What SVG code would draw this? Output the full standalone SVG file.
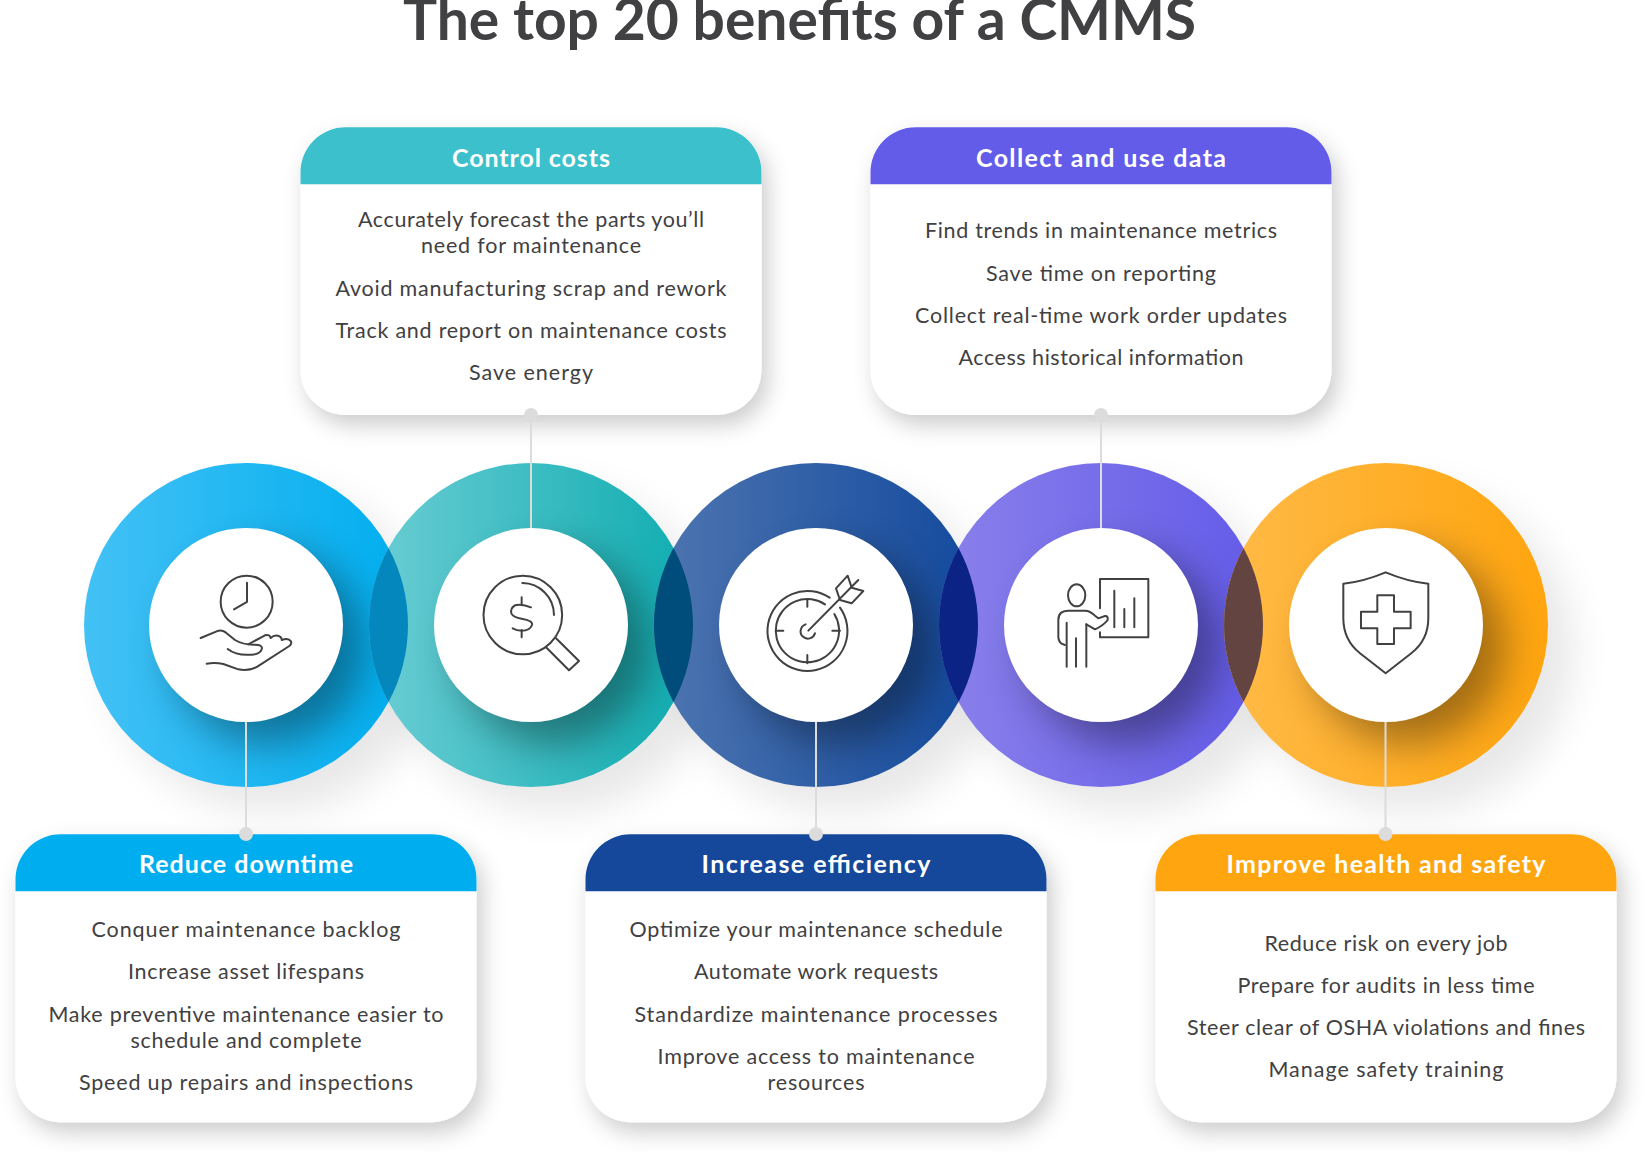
<svg xmlns="http://www.w3.org/2000/svg" width="1646" height="1152" viewBox="0 0 1646 1152">
<style>
text{font-family:"Lato","Open Sans",sans-serif;text-anchor:middle}
.title{font-size:57px;font-weight:700;fill:#414042}
.head{font-size:25px;font-weight:700;fill:#fff}
.item{font-size:21.5px;font-weight:400;fill:#414042}
.card{fill:#fff;filter:url(#cardShadow)}
.conn{stroke:#dcdcdc;stroke-width:2;fill:none}
.dot{fill:#dcdcdc}
.inner{fill:#fff}
.ic{fill:none;stroke:#414042;stroke-width:6;stroke-linecap:round;stroke-linejoin:round}
.ringShadow{fill:#000;opacity:.09;filter:url(#blurA)}
.innerShadow{fill:#000;opacity:.36;filter:url(#blurB)}
</style>
<defs>
<filter id="cardShadow" x="-20%" y="-20%" width="140%" height="150%"><feDropShadow dx="6" dy="10" stdDeviation="11" flood-color="#000" flood-opacity=".2"/></filter>
<filter id="blurA" x="-30%" y="-30%" width="160%" height="160%"><feGaussianBlur stdDeviation="20"/></filter>
<filter id="blurB" x="-40%" y="-40%" width="180%" height="180%"><feGaussianBlur stdDeviation="20"/></filter>
<linearGradient id="gBlue"><stop offset="0" stop-color="#43c1f5"/><stop offset="1" stop-color="#00aeef"/></linearGradient>
<linearGradient id="gTeal"><stop offset="0" stop-color="#6bcdd4"/><stop offset="1" stop-color="#0fadb1"/></linearGradient>
<linearGradient id="gNavy"><stop offset="0" stop-color="#4e75b0"/><stop offset="1" stop-color="#134a9e"/></linearGradient>
<linearGradient id="gPurple"><stop offset="0" stop-color="#8a80eb"/><stop offset="1" stop-color="#635be8"/></linearGradient>
<linearGradient id="gOrange"><stop offset="0" stop-color="#ffba47"/><stop offset="1" stop-color="#ffa50f"/></linearGradient>
<clipPath id="c1"><circle cx="246" cy="625" r="162"/></clipPath>
<clipPath id="c2"><circle cx="531" cy="625" r="162"/></clipPath>
<clipPath id="c3"><circle cx="816" cy="625" r="162"/></clipPath>
<clipPath id="c4"><circle cx="1101" cy="625" r="162"/></clipPath>
<clipPath id="c5"><circle cx="1386" cy="625" r="162"/></clipPath>
<path id="cardHead" d="M-230.500 57V45A45 45 0 0 1 -185.500 0H185.500A45 45 0 0 1 230.500 45V57Z"/>
</defs>
<rect width="1646" height="1152" fill="#fff"/>
<text class="title" x="799.500" y="40" textLength="793">The top 20 benefits of a CMMS</text>

<g id="ring-shadows">
<circle class="ringShadow" cx="271" cy="650" r="162"/>
<circle class="ringShadow" cx="556" cy="650" r="162"/>
<circle class="ringShadow" cx="841" cy="650" r="162"/>
<circle class="ringShadow" cx="1126" cy="650" r="162"/>
<circle class="ringShadow" cx="1411" cy="650" r="162"/>
</g>

<g id="card-control-costs">
<rect class="card" x="300.500" y="127.300" width="461" height="287.700" rx="45"/>
<use href="#cardHead" x="531" y="127.300" fill="#3cc0cc"/>
<text class="head" x="531" y="166.700" textLength="158">Control costs</text>
<text class="item" x="531" y="227.300" textLength="346">Accurately forecast the parts you’ll</text>
<text class="item" x="531" y="253.300" textLength="220">need for maintenance</text>
<text class="item" x="531" y="296" textLength="391">Avoid manufacturing scrap and rework</text>
<text class="item" x="531" y="338.300" textLength="391">Track and report on maintenance costs</text>
<text class="item" x="531" y="380" textLength="124">Save energy</text>
</g>
<g id="card-collect-data">
<rect class="card" x="870.500" y="127.300" width="461" height="287.700" rx="45"/>
<use href="#cardHead" x="1101" y="127.300" fill="#635ce9"/>
<text class="head" x="1101" y="166.700" textLength="250">Collect and use data</text>
<text class="item" x="1101" y="238.400" textLength="352">Find trends in maintenance metrics</text>
<text class="item" x="1101" y="280.700" textLength="230">Save time on reporting</text>
<text class="item" x="1101" y="323" textLength="372">Collect real-time work order updates</text>
<text class="item" x="1101" y="365.300" textLength="285">Access historical information</text>
</g>
<g id="card-reduce-downtime">
<rect class="card" x="15.500" y="834.300" width="461" height="288" rx="45"/>
<use href="#cardHead" x="246" y="834.300" fill="#00aeef"/>
<text class="head" x="246" y="873.300" textLength="214">Reduce downtime</text>
<text class="item" x="246" y="937.300" textLength="309">Conquer maintenance backlog</text>
<text class="item" x="246" y="979.300" textLength="236">Increase asset lifespans</text>
<text class="item" x="246" y="1021.700" textLength="395">Make preventive maintenance easier to</text>
<text class="item" x="246" y="1047.700" textLength="231">schedule and complete</text>
<text class="item" x="246" y="1090" textLength="334">Speed up repairs and inspections</text>
</g>
<g id="card-increase-efficiency">
<rect class="card" x="585.500" y="834.300" width="461" height="288" rx="45"/>
<use href="#cardHead" x="816" y="834.300" fill="#15489a"/>
<text class="head" x="816" y="873.300" textLength="229">Increase efficiency</text>
<text class="item" x="816" y="937.300" textLength="373">Optimize your maintenance schedule</text>
<text class="item" x="816" y="979.300" textLength="244">Automate work requests</text>
<text class="item" x="816" y="1021.700" textLength="363">Standardize maintenance processes</text>
<text class="item" x="816" y="1063.800" textLength="317">Improve access to maintenance</text>
<text class="item" x="816" y="1090" textLength="97">resources</text>
</g>
<g id="card-health-safety">
<rect class="card" x="1155.500" y="834.300" width="461" height="288" rx="45"/>
<use href="#cardHead" x="1386" y="834.300" fill="#ffa50f"/>
<text class="head" x="1386" y="873.300" textLength="319">Improve health and safety</text>
<text class="item" x="1386" y="950.500" textLength="243">Reduce risk on every job</text>
<text class="item" x="1386" y="992.800" textLength="297">Prepare for audits in less time</text>
<text class="item" x="1386" y="1035" textLength="398">Steer clear of OSHA violations and fines</text>
<text class="item" x="1386" y="1077.400" textLength="235">Manage safety training</text>
</g>

<g id="rings">
<circle cx="246" cy="625" r="162" fill="url(#gBlue)"/>
<g clip-path="url(#c1)"><circle class="innerShadow" cx="268" cy="647" r="97"/></g>
<circle cx="531" cy="625" r="162" fill="url(#gTeal)"/>
<g clip-path="url(#c2)"><circle class="innerShadow" cx="553" cy="647" r="97"/></g>
<circle cx="816" cy="625" r="162" fill="url(#gNavy)"/>
<g clip-path="url(#c3)"><circle class="innerShadow" cx="838" cy="647" r="97"/></g>
<circle cx="1101" cy="625" r="162" fill="url(#gPurple)"/>
<g clip-path="url(#c4)"><circle class="innerShadow" cx="1123" cy="647" r="97"/></g>
<circle cx="1386" cy="625" r="162" fill="url(#gOrange)"/>
<g clip-path="url(#c5)"><circle class="innerShadow" cx="1408" cy="647" r="97"/></g>
<path fill="#0387bd" d="M388.500 548A162 162 0 0 1 388.500 702A162 162 0 0 1 388.500 548Z"/>
<path fill="#004c7a" d="M673.500 548A162 162 0 0 1 673.500 702A162 162 0 0 1 673.500 548Z"/>
<path fill="#0b2385" d="M958.500 548A162 162 0 0 1 958.500 702A162 162 0 0 1 958.500 548Z"/>
<path fill="#644440" d="M1243.500 548A162 162 0 0 1 1243.500 702A162 162 0 0 1 1243.500 548Z"/>
</g>

<g id="connectors">
<path class="conn" d="M246 722V834M531 415V528M816 722V834M1101 415V528M1385.500 722V834"/>
<circle class="dot" cx="246" cy="834" r="7"/>
<circle class="dot" cx="531" cy="415" r="7"/>
<circle class="dot" cx="816" cy="834" r="7"/>
<circle class="dot" cx="1101" cy="415" r="7"/>
<circle class="dot" cx="1385.500" cy="834" r="7"/>
</g>

<g id="node-reduce-downtime">
<circle class="inner" cx="246" cy="625" r="97"/>
<g transform="translate(180 560) scale(.3333)" class="ic">
<circle cx="200" cy="125" r="78"/>
<path d="M201 68V126L162 148"/>
<path d="M62 234L110 214Q125 208 138 218L165 240Q190 255 225 254Q245 254 246 264Q244 282 215 284Q170 288 143 267"/>
<path d="M205 253L255 226Q270 222 272 234Q285 222 300 230Q306 234 305 240Q325 232 333 244Q336 252 328 258L232 320Q205 335 175 328L130 312Q105 307 80 311"/>
</g>
</g>
<g id="node-control-costs">
<circle class="inner" cx="531" cy="625" r="97"/>
<g transform="translate(470 560) scale(.3333)" class="ic">
<circle cx="158.500" cy="165" r="118"/>
<path d="M157 69A96 96 0 0 1 252 165"/>
<path d="M258 235L327 303L297 331L228 262"/>
<path d="M155 112V135M155 210V232"/>
<path d="M183 142Q155 130 135 136Q120 145 124 160Q130 172 155 176Q190 182 186 195Q180 212 155 212Q140 212 128 205"/>
</g>
</g>
<g id="node-increase-efficiency">
<circle class="inner" cx="816" cy="625" r="97"/>
<g transform="translate(755 565) scale(.3333)" class="ic">
<path d="M224 98A120 120 0 1 0 255 128"/>
<path d="M210 118A95 95 0 1 0 238 147"/>
<path d="M157 105V125M157 270V295M65 197H85M232 197H255"/>
<path d="M152 178A22 22 0 1 0 180 205"/>
<path d="M160 197L310 45"/>
<path d="M278 32L243 70L255 105L290 115L325 78L290 68Z"/>
</g>
</g>
<g id="node-collect-data">
<circle class="inner" cx="1101" cy="625" r="97"/>
<g transform="translate(1045 565) scale(.3333)" class="ic">
<path d="M165 130V42H310V217H165V202"/>
<path d="M208 77V187M238 132V187M268 100V187"/>
<ellipse cx="95" cy="91" rx="26" ry="33"/>
<path d="M65 173V305M93 220V305M124 178V305"/>
<path d="M60 240Q40 235 40 215V165Q40 137 70 137H120Q135 137 150 152L160 160L180 153Q190 152 188 165Q175 182 150 193L124 178"/>
</g>
</g>
<g id="node-health-safety">
<circle class="inner" cx="1386" cy="625" r="97"/>
<g transform="translate(1200 440) scale(.3333)" class="ic">
<path d="M557 397Q490 425 430 431V535Q430 600 480 640L557 700L634 640Q685 600 685 535V431Q624 425 557 397Z"/>
<path d="M532 466H582V515H632V565H582V612H532V565H483V515H532Z"/>
</g>
</g>
</svg>
